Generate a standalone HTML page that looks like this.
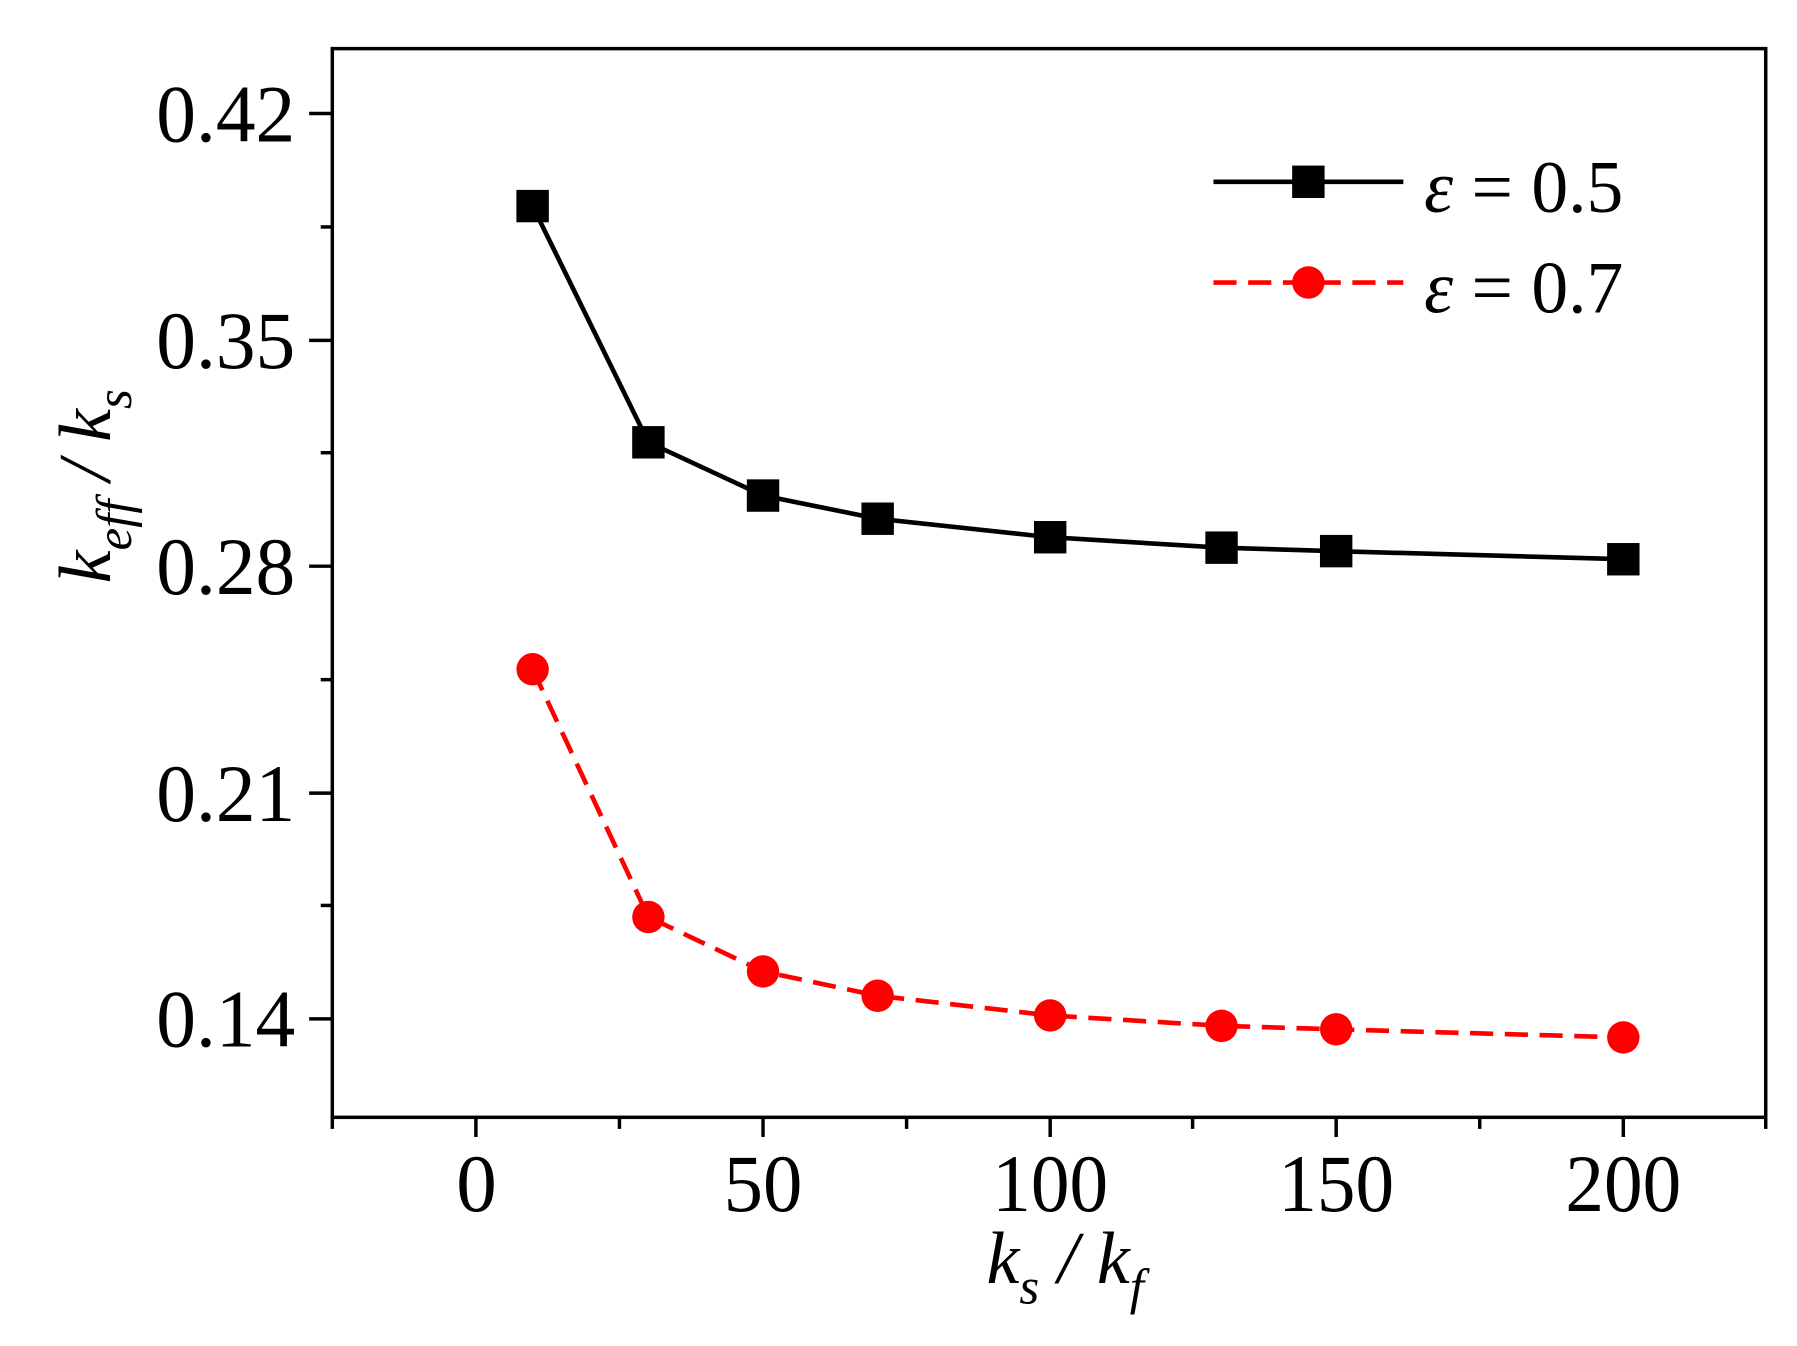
<!DOCTYPE html>
<html><head><meta charset="utf-8"><style>html,body{margin:0;padding:0;background:#fff}svg{display:block}</style></head>
<body>
<svg width="1797" height="1346" viewBox="0 0 1552 1162.5" xmlns="http://www.w3.org/2000/svg" font-family="'Liberation Serif',serif">
<rect x="287" y="42" width="1238" height="923" fill="none" stroke="#000" stroke-width="3"/>
<g stroke="#000" stroke-width="3">
<line x1="267" y1="98" x2="287" y2="98"/><line x1="267" y1="294" x2="287" y2="294"/><line x1="267" y1="489" x2="287" y2="489"/><line x1="267" y1="685" x2="287" y2="685"/><line x1="267" y1="880" x2="287" y2="880"/>
<line x1="277" y1="196" x2="287" y2="196"/><line x1="277" y1="391" x2="287" y2="391"/><line x1="277" y1="587" x2="287" y2="587"/><line x1="277" y1="782" x2="287" y2="782"/>
<line x1="411" y1="965" x2="411" y2="982"/><line x1="659" y1="965" x2="659" y2="982"/><line x1="907" y1="965" x2="907" y2="982"/><line x1="1154" y1="965" x2="1154" y2="982"/><line x1="1402" y1="965" x2="1402" y2="982"/>
<line x1="287" y1="965" x2="287" y2="975"/><line x1="535" y1="965" x2="535" y2="975"/><line x1="783" y1="965" x2="783" y2="975"/><line x1="1030" y1="965" x2="1030" y2="975"/><line x1="1278" y1="965" x2="1278" y2="975"/><line x1="1525" y1="965" x2="1525" y2="975"/>
</g>
<g font-size="70">
<text x="135" y="122" textLength="120" lengthAdjust="spacingAndGlyphs">0.42</text>
<text x="135" y="318" textLength="120" lengthAdjust="spacingAndGlyphs">0.35</text>
<text x="135" y="513" textLength="120" lengthAdjust="spacingAndGlyphs">0.28</text>
<text x="135" y="709" textLength="120" lengthAdjust="spacingAndGlyphs">0.21</text>
<text x="135" y="904" textLength="120" lengthAdjust="spacingAndGlyphs">0.14</text>
</g>
<g font-size="70">
<text x="394" y="1046" textLength="35" lengthAdjust="spacingAndGlyphs">0</text>
<text x="625" y="1046" textLength="68" lengthAdjust="spacingAndGlyphs">50</text>
<text x="857" y="1046" textLength="100" lengthAdjust="spacingAndGlyphs">100</text>
<text x="1104" y="1046" textLength="100" lengthAdjust="spacingAndGlyphs">150</text>
<text x="1352" y="1046" textLength="100" lengthAdjust="spacingAndGlyphs">200</text>
</g>
<text x="920" y="1108" font-size="64" text-anchor="middle" font-style="italic">k<tspan font-size="44" dy="18">s</tspan><tspan dy="-18"> / k</tspan><tspan font-size="44" dy="18">f</tspan></text>
<text transform="translate(95,420) rotate(-90)" font-size="64" text-anchor="middle" font-style="italic">k<tspan font-size="44" dy="18">eff</tspan><tspan dy="-18"> / k</tspan><tspan font-size="44" dy="18">s</tspan></text>
<polyline fill="none" stroke="#000" stroke-width="4" points="460,178 560,382 659,428 758,448 907,464 1055,473 1154,476 1402,483"/>
<g fill="#000">
<rect x="446" y="164" width="28" height="28"/><rect x="546" y="368" width="28" height="28"/><rect x="645" y="414" width="28" height="28"/><rect x="744" y="434" width="28" height="28"/><rect x="893" y="450" width="28" height="28"/><rect x="1041" y="459" width="28" height="28"/><rect x="1140" y="462" width="28" height="28"/><rect x="1388" y="469" width="28" height="28"/>
</g>
<polyline fill="none" stroke="#f00" stroke-width="4" stroke-dasharray="20,10" points="460,578 560,792 659,839 758,860 907,877 1055,886 1154,889 1402,896"/>
<g fill="#f00">
<circle cx="460" cy="578" r="14"/><circle cx="560" cy="792" r="14"/><circle cx="659" cy="839" r="14"/><circle cx="758" cy="860" r="14"/><circle cx="907" cy="877" r="14"/><circle cx="1055" cy="886" r="14"/><circle cx="1154" cy="889" r="14"/><circle cx="1402" cy="896" r="14"/>
</g>
<line x1="1048" y1="157" x2="1212" y2="157" stroke="#000" stroke-width="4"/>
<rect x="1116" y="143" width="28" height="28" fill="#000"/>
<line x1="1048" y1="244" x2="1212" y2="244" stroke="#f00" stroke-width="4" stroke-dasharray="20,10"/>
<circle cx="1130" cy="244" r="14" fill="#f00"/>
<text x="1230" y="183" font-size="64" textLength="172" lengthAdjust="spacingAndGlyphs"><tspan font-style="italic">ε</tspan> = 0.5</text>
<text x="1230" y="270" font-size="64" textLength="172" lengthAdjust="spacingAndGlyphs"><tspan font-style="italic">ε</tspan> = 0.7</text>
</svg>
</body></html>
